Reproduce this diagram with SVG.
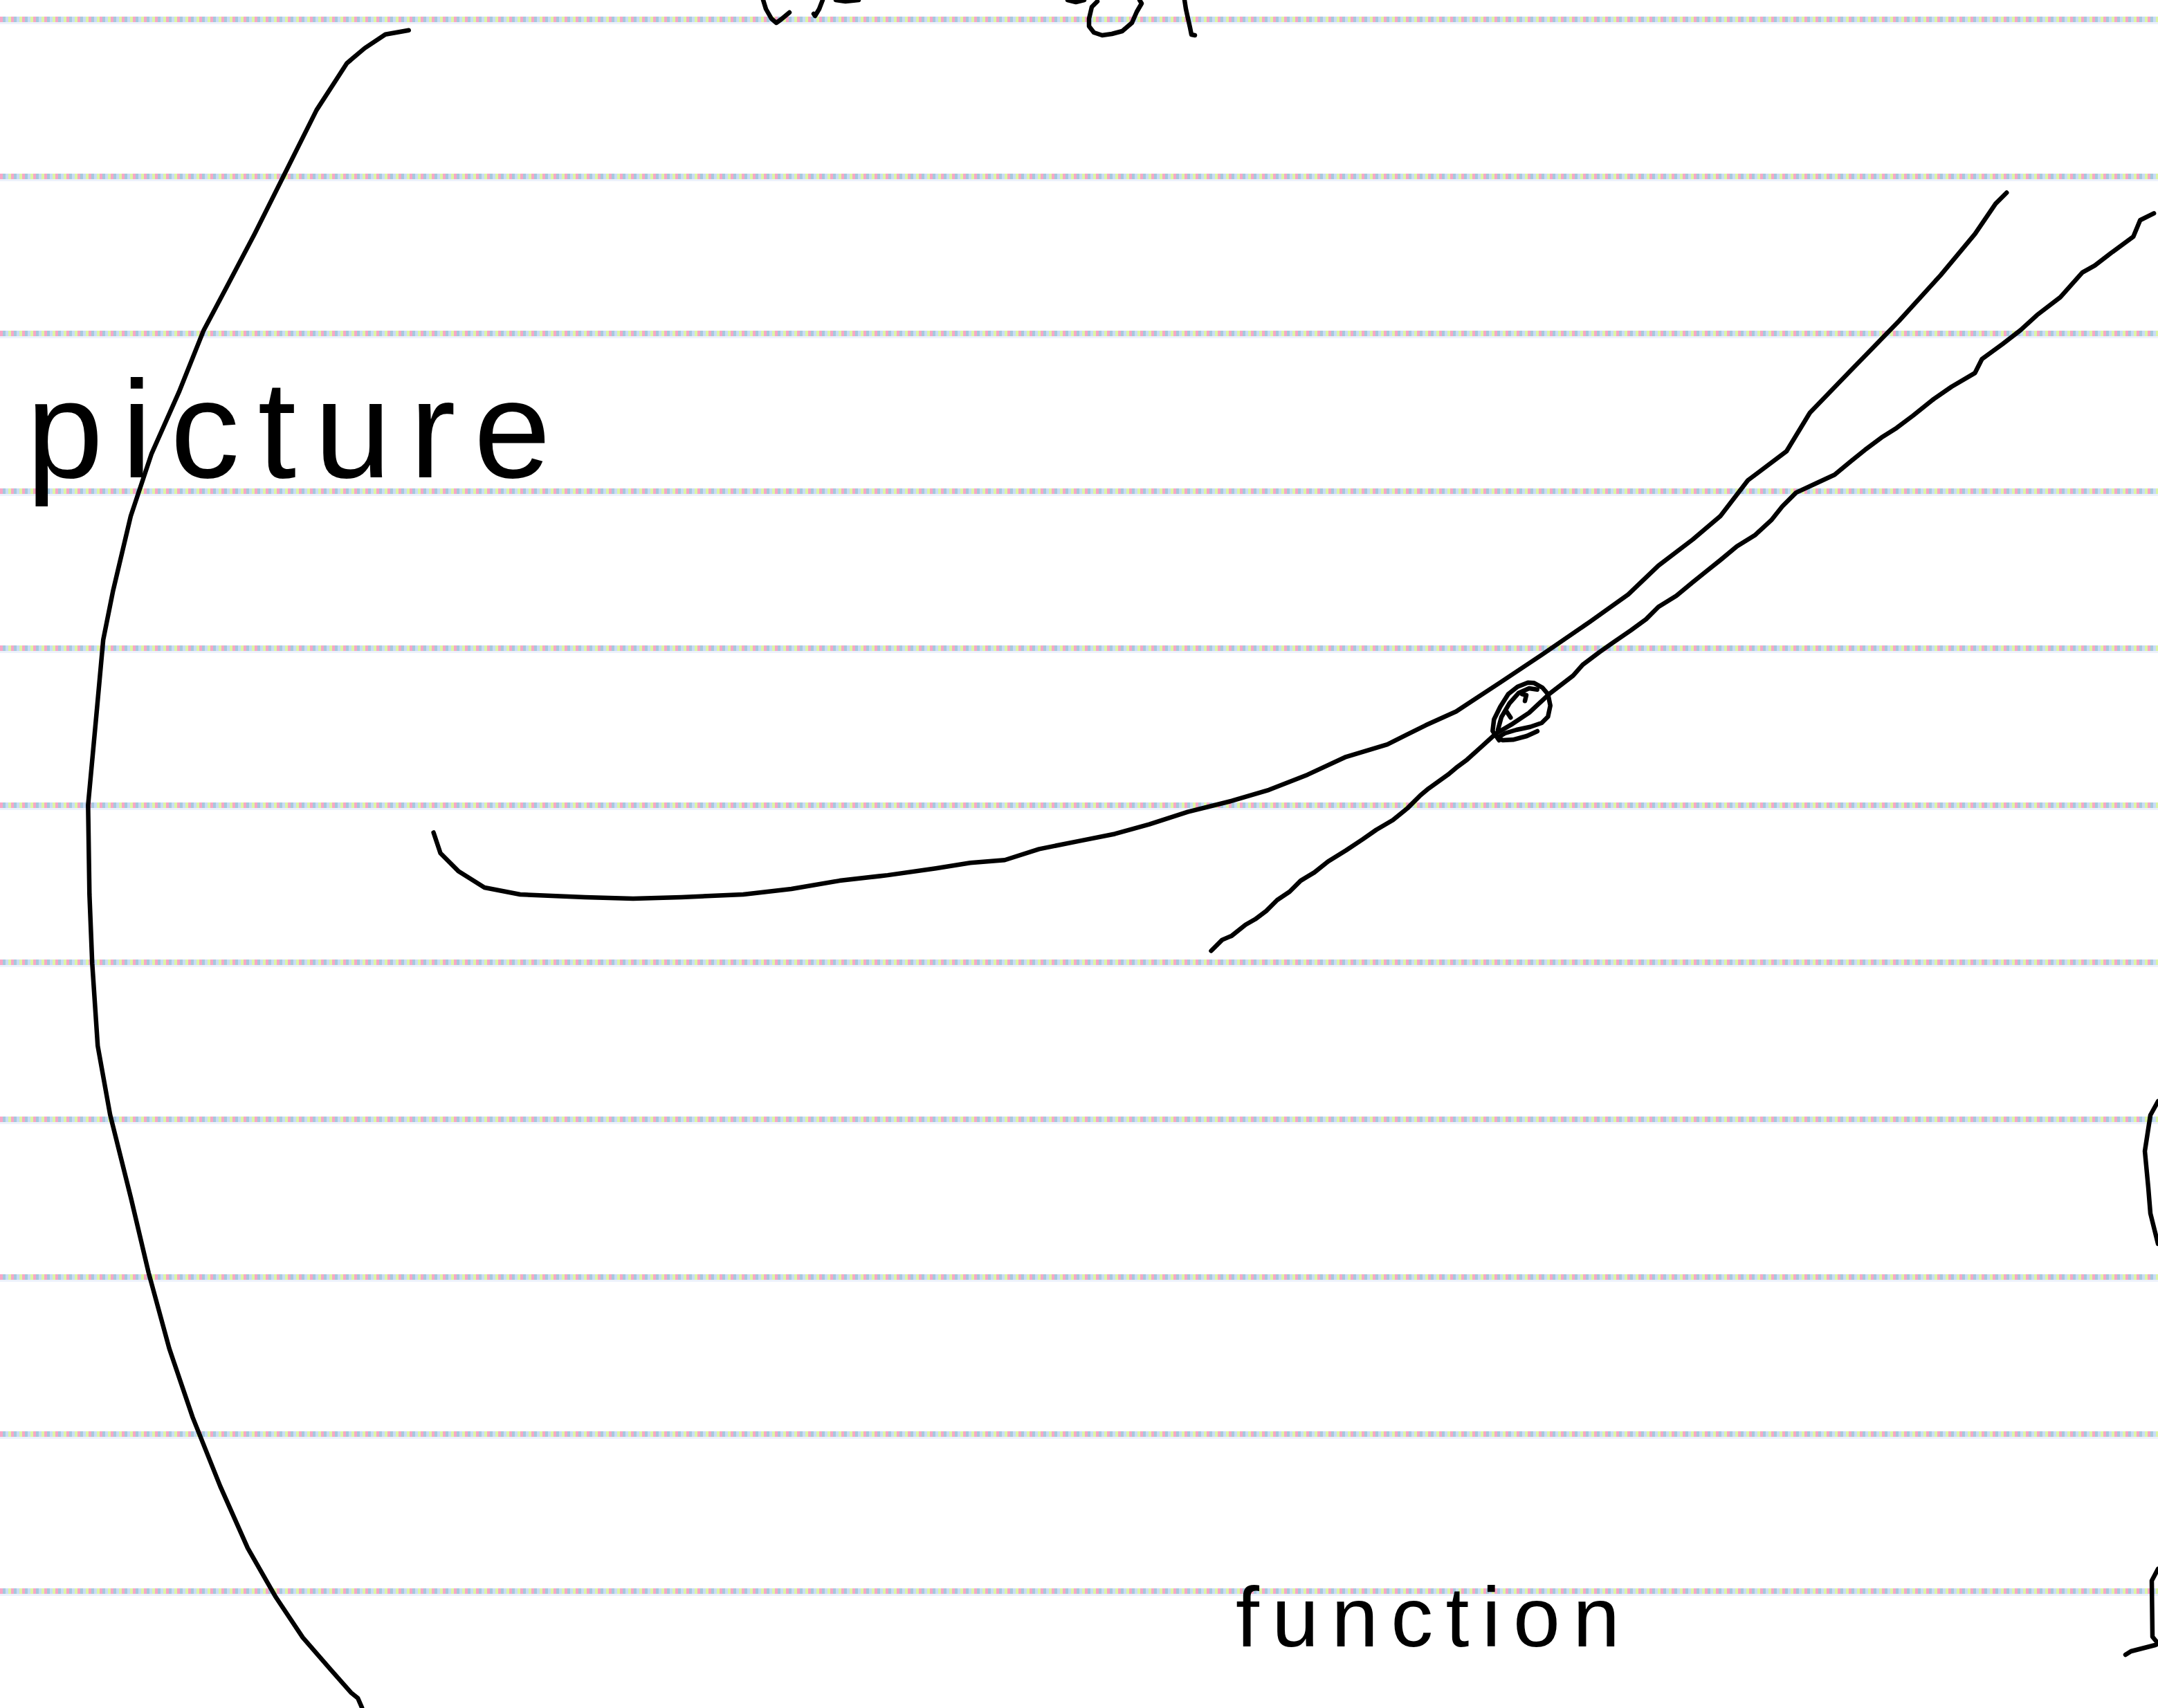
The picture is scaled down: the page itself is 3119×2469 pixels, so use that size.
<svg xmlns="http://www.w3.org/2000/svg" width="3119" height="2469" viewBox="0 0 3119 2469">
<defs>
<pattern id="rule" x="0" y="0" width="16" height="8" patternUnits="userSpaceOnUse">
<rect x="0" y="0" width="4" height="8" fill="#f7a7c7"/>
<rect x="4" y="0" width="4" height="8" fill="#a7c9dd"/>
<rect x="8" y="0" width="4" height="8" fill="#c9dcf7"/>
<rect x="12" y="0" width="4" height="8" fill="#ddf6a4"/>
</pattern>
</defs>
<style>
.ink{fill:none;stroke:#000;stroke-width:6.5;stroke-linecap:round;stroke-linejoin:round}
.ink-s{fill:none;stroke:#000;stroke-width:3.27;stroke-linecap:round;stroke-linejoin:round}
.band{fill:url(#rule)}
.fade{fill:#edf2fb}
.hand{font-family:"Liberation Sans",Arial,sans-serif;fill:#000}
</style>
<rect x="0" y="0" width="3119" height="2469" fill="#ffffff"/>
<g id="ruled-lines">
<rect class="band" x="0" y="24" width="3119" height="8"/><rect class="fade" x="0" y="32" width="3119" height="3"/>
<rect class="band" x="0" y="251" width="3119" height="8"/><rect class="fade" x="0" y="259" width="3119" height="3"/>
<rect class="band" x="0" y="478" width="3119" height="8"/><rect class="fade" x="0" y="486" width="3119" height="3"/>
<rect class="band" x="0" y="706" width="3119" height="8"/><rect class="fade" x="0" y="714" width="3119" height="3"/>
<rect class="band" x="0" y="933" width="3119" height="8"/><rect class="fade" x="0" y="941" width="3119" height="3"/>
<rect class="band" x="0" y="1160" width="3119" height="8"/><rect class="fade" x="0" y="1168" width="3119" height="3"/>
<rect class="band" x="0" y="1387" width="3119" height="8"/><rect class="fade" x="0" y="1395" width="3119" height="3"/>
<rect class="band" x="0" y="1614" width="3119" height="8"/><rect class="fade" x="0" y="1622" width="3119" height="3"/>
<rect class="band" x="0" y="1842" width="3119" height="8"/><rect class="fade" x="0" y="1850" width="3119" height="3"/>
<rect class="band" x="0" y="2069" width="3119" height="8"/><rect class="fade" x="0" y="2077" width="3119" height="3"/>
<rect class="band" x="0" y="2296" width="3119" height="8"/><rect class="fade" x="0" y="2304" width="3119" height="3"/>
</g>
<g id="strokes" transform="scale(1.9892)">
<path id="bracket" class="ink-s" d="M297,22 L280,25 L265,35 L252,46 L243,60 L230,80 L220,100 L205,130 L185,170 L165,208 L148,240 L130,285 L110,330 L95,375 L82,430 L75,465 L70,520 L64,585 L65,650 L67,700 L71,760 L80,810 L95,870 L108,925 L123,980 L140,1030 L160,1080 L180,1125 L200,1160 L220,1190 L240,1213 L255,1230 L260,1234 L263,1241"/>
<path id="curve" class="ink-s" d="M315,605 L320,620 L333,633 L352,645 L378,650 L425,652 L460,653 L495,652 L540,650 L575,646 L610,640 L645,636 L680,631 L705,627 L730,625 L755,617 L785,611 L810,606 L835,599 L863,590 L895,582 L922,574 L950,563 L978,550 L1008,541 L1036,527 L1058,517 L1090,496 L1120,476 L1155,452 L1183,432 L1205,411 L1230,392 L1250,375 L1270,349 L1298,328 L1315,300 L1345,269 L1380,233 L1410,200 L1435,170 L1450,148 L1458,140"/>
<path id="tangent" class="ink-s" d="M880,691 L888,683 L895,680 L905,672 L912,668 L920,662 L928,654 L937,648 L945,640 L955,634 L965,626 L978,618 L990,610 L1000,603 L1012,596 L1023,587 L1032,578 L1038,573 L1045,568 L1052,563 L1058,558 L1066,552 L1076,543 L1087,533 L1099,526 L1111,518 L1126,504 L1143,491 L1150,483 L1162,474 L1172,467 L1185,458 L1196,450 L1205,441 L1218,433 L1230,423 L1240,415 L1250,407 L1262,397 L1275,389 L1287,378 L1295,368 L1305,358 L1320,351 L1333,345 L1345,335 L1355,327 L1367,318 L1378,311 L1390,302 L1405,290 L1418,281 L1435,271 L1440,261 L1455,250 L1468,240 L1480,229 L1497,216 L1513,198 L1522,193 L1535,183 L1550,172 L1555,160 L1565,155"/>
</g>
<g id="point">
<path class="ink" d="M2166.7,1070 L2157.3,1056.7 L2159.3,1040 L2168.3,1021.7 L2180,1003.3 L2193.3,992.7 L2208.3,986.7 L2217.3,987.3 L2229.3,994 L2237.3,1003.3 L2240.7,1020 L2237.3,1036 L2228.3,1045 L2211.7,1050.7 L2191.7,1055 L2175,1060 L2165,1066 L2171.7,1070 L2186.7,1069.3 L2206.7,1064 L2222,1057"/>
<path class="ink" d="M2165,1055 L2170,1036.7 L2181.7,1016.7 L2195,1001.7 L2210,995 L2221.7,996.7"/>
<path class="ink" d="M2200,1003.3 L2206,1005 L2204,1013.3"/>
<path class="ink" d="M2177.3,1028.3 L2183.3,1037.3"/>
</g>
<g id="edge-fragments">
<path class="ink" d="M1103,0 L1107,13 L1115,27 L1122,33 L1129,28 L1141,18"/>
<path class="ink" d="M1189,0 L1184,13 L1178,23 L1176,20"/>
<path class="ink" d="M1208,0 L1222,2 L1241,0"/>
<path class="ink" d="M1543,0 L1555,3 L1567,0"/>
<path class="ink" d="M1586,2 L1578,10 L1574,27 L1574,38 L1581,47 L1593,51 L1607,49 L1622,45 L1636,33 L1643,17 L1650,5 L1647,0"/>
<path class="ink" d="M1712,0 L1714,13 L1720,40 L1722,50 L1727,51"/>
<path class="ink" d="M3119,1592 L3108,1612 L3100,1664 L3105,1717 L3108,1754 L3119,1798"/>
<path class="ink" d="M3119,2268 L3110,2285 L3111,2366 L3116,2372"/>
<path class="ink" d="M3072,2392 L3080,2387 L3115,2378 L3119,2376"/>
</g>
<g id="label-picture">
<text class="hand" x="38" y="690" font-size="200" textLength="758" lengthAdjust="spacing">picture</text>
</g>
<g id="label-function">
<text class="hand" x="1786" y="2380" font-size="122" textLength="555" lengthAdjust="spacing">function</text>
</g>
</svg>
